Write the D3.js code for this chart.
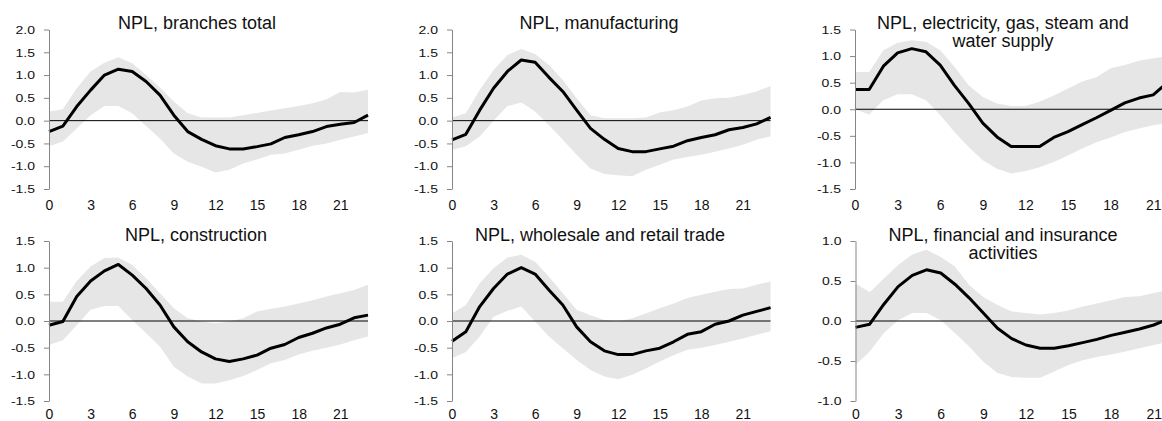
<!DOCTYPE html>
<html>
<head>
<meta charset="utf-8">
<script src="https://cdn.jsdelivr.net/npm/d3@7"></script>
<style>
    body { margin: 0; background: #fff; }
    svg { display: block; font-family: "Liberation Sans", Arial, sans-serif; }
</style>
</head>
<body>
<div id="chart"></div>
<script>
const horizons = [0, 1, 2, 3, 4, 5, 6, 7, 8, 9, 10, 11, 12, 13, 14, 15, 16, 17, 18, 19, 20, 21, 22, 23];
const xTickLabels = [0, 3, 6, 9, 12, 15, 18, 21];

// NPL, branches total
const branchesMid   = [-0.24, -0.12, 0.31, 0.67, 1.0, 1.13, 1.08, 0.86, 0.56, 0.12, -0.24, -0.41, -0.55, -0.62, -0.62, -0.57, -0.51, -0.37, -0.31, -0.24, -0.13, -0.08, -0.04, 0.12];
const branchesUpper = [0.2, 0.25, 0.71, 1.08, 1.27, 1.39, 1.26, 1.0, 0.73, 0.42, 0.16, 0.07, 0.07, 0.07, 0.12, 0.17, 0.22, 0.27, 0.32, 0.38, 0.47, 0.63, 0.62, 0.68];
const branchesLower = [-0.56, -0.46, -0.17, 0.12, 0.32, 0.32, 0.16, -0.12, -0.39, -0.72, -0.9, -1.01, -1.14, -1.08, -0.94, -0.85, -0.75, -0.72, -0.64, -0.55, -0.5, -0.42, -0.35, -0.27];

// NPL, manufacturing
const manufMid   = [-0.42, -0.3, 0.23, 0.71, 1.08, 1.33, 1.28, 0.95, 0.64, 0.23, -0.17, -0.41, -0.61, -0.68, -0.68, -0.62, -0.56, -0.44, -0.37, -0.31, -0.2, -0.15, -0.07, 0.07];
const manufUpper = [0.07, 0.16, 0.67, 1.11, 1.44, 1.57, 1.46, 1.22, 0.89, 0.49, 0.12, 0.05, 0.05, 0.05, 0.07, 0.18, 0.23, 0.31, 0.44, 0.49, 0.5, 0.56, 0.64, 0.76];
const manufLower = [-0.64, -0.56, -0.35, 0.0, 0.32, 0.4, 0.2, -0.1, -0.42, -0.75, -1.05, -1.17, -1.2, -1.22, -1.08, -0.97, -0.85, -0.8, -0.75, -0.68, -0.61, -0.53, -0.42, -0.34];

// NPL, electricity, gas, steam and water supply
const energyMid   = [0.37, 0.37, 0.81, 1.06, 1.14, 1.08, 0.83, 0.45, 0.11, -0.26, -0.52, -0.7, -0.7, -0.7, -0.53, -0.42, -0.29, -0.16, -0.02, 0.12, 0.21, 0.27, 0.5, 0.6];
const energyUpper = [0.7, 0.7, 1.11, 1.25, 1.3, 1.27, 1.11, 0.8, 0.45, 0.23, 0.11, 0.06, 0.06, 0.14, 0.26, 0.39, 0.52, 0.6, 0.77, 0.83, 0.91, 0.96, 1.0, 1.05];
const energyLower = [0.0, -0.1, 0.17, 0.28, 0.28, 0.17, -0.11, -0.43, -0.71, -0.96, -1.12, -1.21, -1.16, -1.09, -0.99, -0.87, -0.74, -0.62, -0.53, -0.43, -0.36, -0.3, -0.26, -0.21];

// NPL, construction
const constrMid   = [-0.08, -0.01, 0.46, 0.75, 0.94, 1.06, 0.86, 0.61, 0.3, -0.11, -0.39, -0.58, -0.71, -0.76, -0.71, -0.64, -0.51, -0.44, -0.31, -0.23, -0.13, -0.06, 0.06, 0.11];
const constrUpper = [0.36, 0.36, 0.75, 1.02, 1.18, 1.19, 1.05, 0.8, 0.52, 0.24, 0.05, -0.01, -0.04, -0.01, 0.05, 0.18, 0.23, 0.27, 0.33, 0.39, 0.46, 0.52, 0.58, 0.68];
const constrLower = [-0.45, -0.36, -0.08, 0.21, 0.28, 0.28, 0.02, -0.23, -0.48, -0.86, -1.04, -1.17, -1.17, -1.11, -1.03, -0.92, -0.79, -0.73, -0.63, -0.56, -0.5, -0.44, -0.36, -0.29];

// NPL, wholesale and retail trade
const tradeMid   = [-0.38, -0.2, 0.27, 0.61, 0.88, 1.0, 0.88, 0.58, 0.3, -0.11, -0.39, -0.56, -0.63, -0.63, -0.56, -0.51, -0.39, -0.25, -0.2, -0.06, 0.0, 0.11, 0.18, 0.25];
const tradeUpper = [0.14, 0.3, 0.71, 0.99, 1.19, 1.24, 1.11, 0.83, 0.52, 0.21, 0.11, 0.02, -0.01, 0.05, 0.14, 0.24, 0.33, 0.43, 0.49, 0.55, 0.6, 0.61, 0.68, 0.74];
const tradeLower = [-0.7, -0.58, -0.29, 0.08, 0.19, 0.27, -0.01, -0.29, -0.51, -0.73, -0.92, -1.04, -1.09, -1.01, -0.89, -0.76, -0.64, -0.54, -0.5, -0.45, -0.39, -0.33, -0.26, -0.19];

// NPL, financial and insurance activities
const financeMid   = [-0.08, -0.04, 0.21, 0.43, 0.57, 0.64, 0.6, 0.46, 0.29, 0.1, -0.09, -0.22, -0.3, -0.34, -0.34, -0.31, -0.27, -0.23, -0.18, -0.14, -0.1, -0.05, 0.02, 0.06];
const financeUpper = [0.47, 0.36, 0.53, 0.7, 0.83, 0.89, 0.8, 0.68, 0.45, 0.3, 0.2, 0.12, 0.1, 0.08, 0.1, 0.13, 0.18, 0.22, 0.26, 0.3, 0.31, 0.35, 0.39, 0.41];
const financeLower = [-0.55, -0.38, -0.15, 0.01, 0.1, 0.1, 0.01, -0.15, -0.32, -0.51, -0.65, -0.7, -0.71, -0.71, -0.63, -0.55, -0.49, -0.45, -0.42, -0.38, -0.34, -0.3, -0.26, -0.24];

const ticksWide   = [2.0, 1.5, 1.0, 0.5, 0.0, -0.5, -1.0, -1.5];
const ticksMid    = [1.5, 1.0, 0.5, 0.0, -0.5, -1.0, -1.5];
const ticksNarrow = [1.0, 0.5, 0.0, -0.5, -1.0];

const panels = [
    { title: ['NPL, branches total'], mid: branchesMid, upper: branchesUpper, lower: branchesLower, yTicks: ticksWide,
      left: 49, top: 29.5, height: 159.5, unit: 13.87, titleX: 197, titleY: 29.3, labelPad: 11 },
    { title: ['NPL, manufacturing'], mid: manufMid, upper: manufUpper, lower: manufLower, yTicks: ticksWide,
      left: 452, top: 29.5, height: 159.5, unit: 13.85, titleX: 599, titleY: 29.3, labelPad: 11 },
    { title: ['NPL, electricity, gas, steam and', 'water supply'], mid: energyMid, upper: energyUpper, lower: energyLower, yTicks: ticksMid,
      left: 855, top: 29.5, height: 159.5, unit: 14.2, titleX: 1003, titleY: 29.3, labelPad: 11 },
    { title: ['NPL, construction'], mid: constrMid, upper: constrUpper, lower: constrLower, yTicks: ticksMid,
      left: 49, top: 241, height: 160, unit: 13.87, titleX: 196, titleY: 241, labelPad: 8 },
    { title: ['NPL, wholesale and retail trade'], mid: tradeMid, upper: tradeUpper, lower: tradeLower, yTicks: ticksMid,
      left: 452, top: 241, height: 160, unit: 13.85, titleX: 600, titleY: 241, labelPad: 8 },
    { title: ['NPL, financial and insurance', 'activities'], mid: financeMid, upper: financeUpper, lower: financeLower, yTicks: ticksNarrow,
      left: 855.5, top: 241, height: 160, unit: 14.2, titleX: 1003, titleY: 241, labelPad: 8 }
];

const svg = d3.select('#chart')
    .append('svg')
    .attr('width', 1162)
    .attr('height', 421);

panels.forEach(p => {
    const g = svg.append('g');
    const last = horizons[horizons.length - 1];

    const x = d3.scaleLinear()
        .domain([0, last])
        .range([p.left, p.left + last * p.unit]);
    const y = d3.scaleLinear()
        .domain([d3.min(p.yTicks), d3.max(p.yTicks)])
        .range([p.top + p.height, p.top]);

    const rows = horizons.map((h, i) => ({ h, mid: p.mid[i], upper: p.upper[i], lower: p.lower[i] }));

    // confidence band
    g.append('path')
        .datum(rows)
        .attr('fill', '#e6e6e6')
        .attr('d', d3.area().x(d => x(d.h)).y0(d => y(d.lower)).y1(d => y(d.upper)));

    g.append('line')
        .attr('x1', x(0)).attr('x2', x(last))
        .attr('y1', y(0)).attr('y2', y(0))
        .attr('stroke', '#000')
        .attr('stroke-width', 1);

    g.append('path')
        .datum(rows)
        .attr('fill', 'none')
        .attr('stroke', '#000')
        .attr('stroke-width', 3)
        .attr('stroke-linejoin', 'round')
        .attr('d', d3.line().x(d => x(d.h)).y(d => y(d.mid)));

    const yAxis = g.append('g')
        .attr('transform', `translate(${p.left}, 0)`)
        .call(d3.axisLeft(y).tickValues(p.yTicks).tickSize(5).tickSizeOuter(0).tickPadding(9)
            .tickFormat(d => d.toFixed(1)));
    yAxis.attr('font-size', 14).attr('font-family', null);
    yAxis.selectAll('path, line').attr('stroke', '#868686');
    yAxis.selectAll('text').attr('fill', '#111').attr('transform', 'scale(1,0.84)');

    const xAxis = g.append('g')
        .attr('transform', `translate(0, ${p.top + p.height})`)
        .call(d3.axisBottom(x).tickValues(xTickLabels).tickSize(0).tickPadding(p.labelPad));
    xAxis.attr('font-size', 14).attr('font-family', null);
    xAxis.select('.domain').remove();
    xAxis.selectAll('text').attr('fill', '#111');

    const title = g.append('text')
        .attr('x', p.titleX)
        .attr('y', p.titleY)
        .attr('text-anchor', 'middle')
        .attr('font-size', 18)
        .attr('fill', '#111');
    p.title.forEach((line, i) => {
        title.append('tspan')
            .attr('x', p.titleX)
            .attr('dy', i === 0 ? 0 : 18)
            .text(line);
    });
});
</script>
</body>
</html>
